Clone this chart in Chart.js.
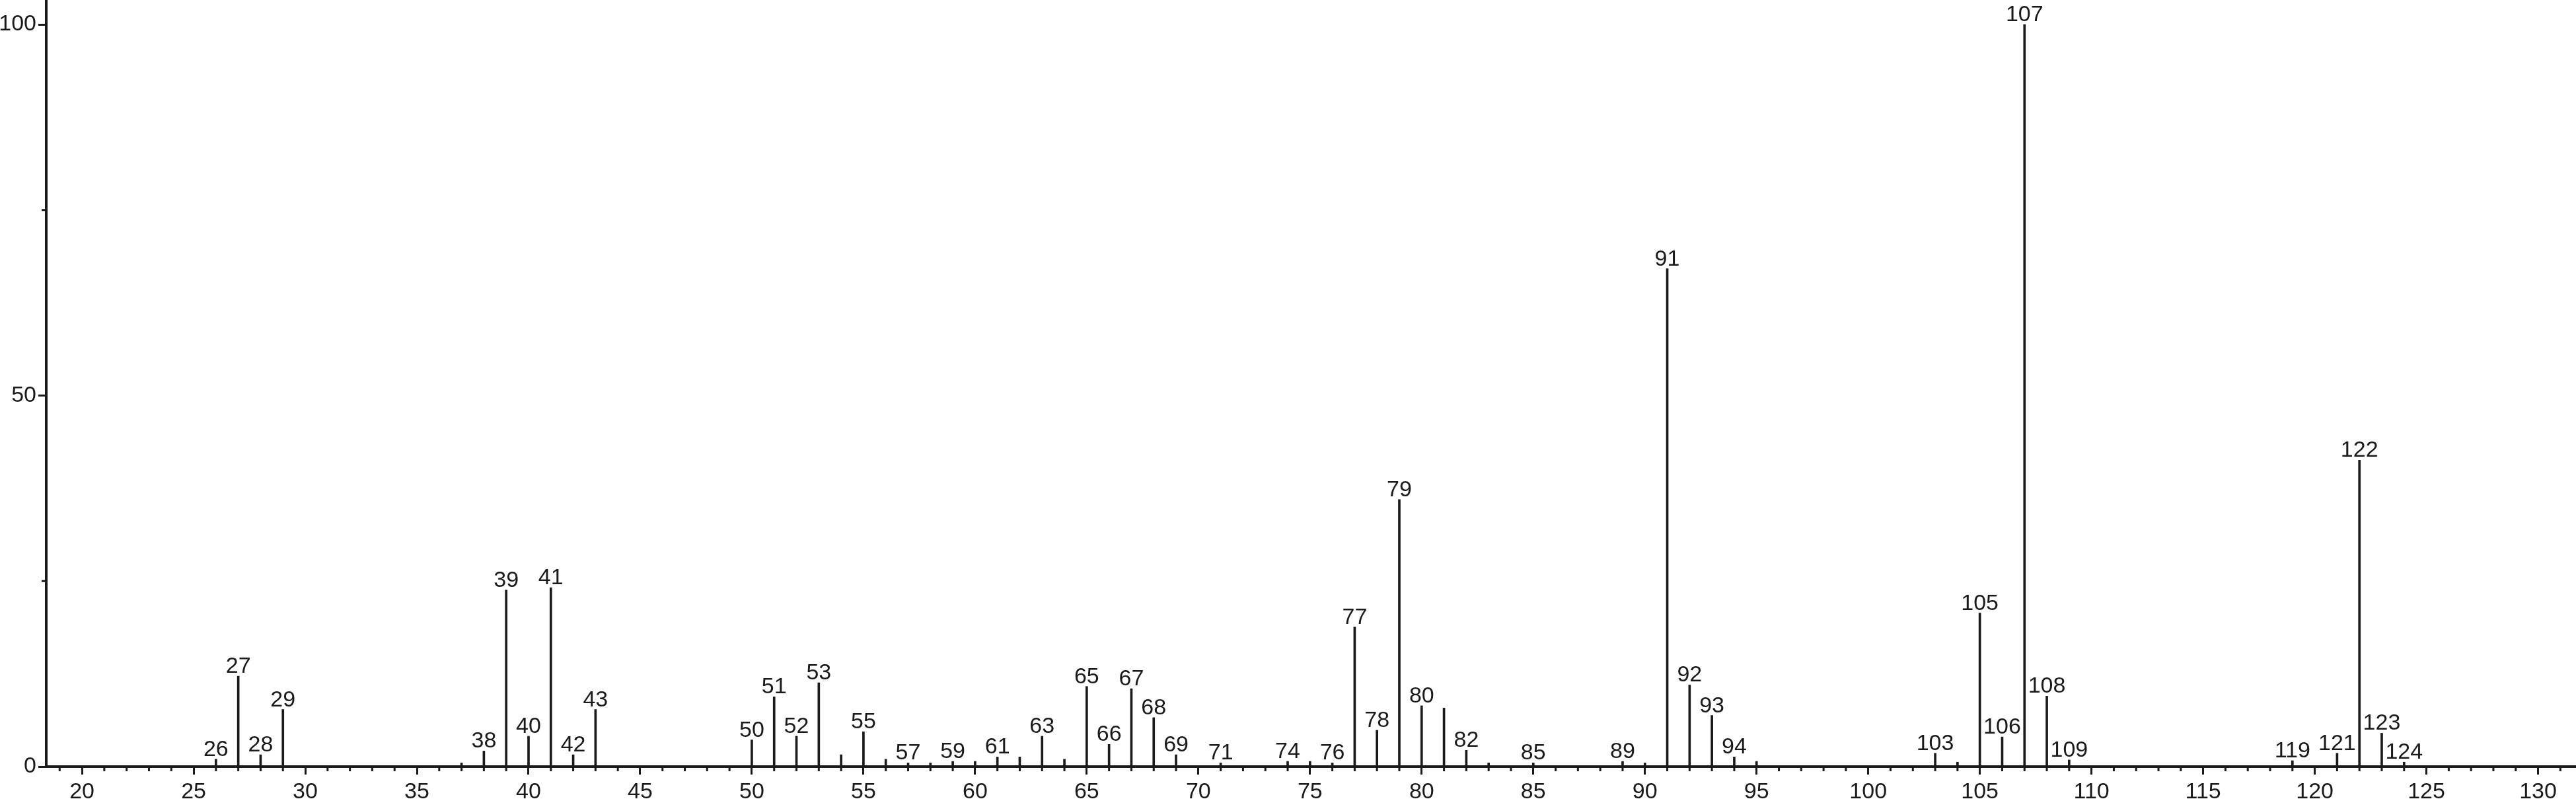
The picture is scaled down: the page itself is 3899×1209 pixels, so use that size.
<!DOCTYPE html>
<html>
<head>
<meta charset="utf-8">
<script src="https://cdn.jsdelivr.net/npm/chart.js@4.4.1/dist/chart.umd.min.js"></script>
<style>
  html, body { margin: 0; padding: 0; background: #fff; }
  canvas { display: block; }
</style>
</head>
<body>
<canvas id="espectro" width="3899" height="1209"></canvas>
<script>
// m/z de cada pico y su intensidad relativa (%)
const masas = [26, 27, 28, 29, 37, 38, 39, 40, 41, 42, 43, 50, 51, 52, 53, 54, 55, 56, 57, 58, 59, 60,
  61, 62, 63, 64, 65, 66, 67, 68, 69, 71, 74, 75, 76, 77, 78, 79, 80, 81, 82, 83, 85, 89, 90,
  91, 92, 93, 94, 95, 103, 104, 105, 106, 107, 108, 109, 119, 121, 122, 123, 124];
const intensidades = [1.0, 12.2, 1.6, 7.7, 0.5, 2.1, 23.8, 4.1, 24.1, 1.6, 7.7, 3.6, 9.4, 4.1, 11.3, 1.6, 4.7, 1.0, 0.5, 0.5, 0.7, 0.7,
  1.3, 1.3, 4.1, 1.0, 10.8, 3.0, 10.5, 6.6, 1.6, 0.5, 0.7, 0.7, 0.5, 18.8, 4.9, 36.0, 8.2, 7.9, 2.2, 0.5, 0.5, 0.7, 0.5,
  67.1, 11.0, 6.9, 1.3, 0.7, 1.8, 0.6, 20.7, 4.0, 100, 9.5, 0.9, 0.8, 1.8, 41.3, 4.5, 0.6];
// picos que llevan su m/z escrito encima
const etiquetados = [26, 27, 28, 29, 38, 39, 40, 41, 42, 43, 50, 51, 52, 53, 55, 57, 59, 61, 63, 65, 66, 67,
  68, 69, 71, 74, 76, 77, 78, 79, 80, 82, 85, 89, 91, 92, 93, 94, 103, 105, 106, 107, 108, 109,
  119, 121, 122, 123, 124];

const ticksX = [20, 25, 30, 35, 40, 45, 50, 55, 60, 65, 70, 75, 80, 85, 90, 95, 100, 105, 110, 115, 120, 125, 130];
const ticksY = [0, 50, 100];
const ticksYMenores = [25, 75];

const tinta = "#1a1a1a";
const fuente = { family: '"Liberation Sans", Arial, sans-serif', size: 34 };

// marcas cortas: cada unidad en x, 25 y 75 en y
const marcasMenores = {
  id: "marcasMenores",
  afterDraw(chart) {
    const ctx = chart.ctx;
    const x = chart.scales.x;
    const y = chart.scales.y;
    ctx.save();
    ctx.strokeStyle = tinta;
    ctx.lineWidth = 3;
    ctx.beginPath();
    for (let v = Math.ceil(x.min); v <= x.max; v++) {
      if (v % 5 === 0) continue;
      const px = x.getPixelForValue(v);
      ctx.moveTo(px, x.top);
      ctx.lineTo(px, x.top + 7);
    }
    ticksYMenores.forEach((v) => {
      const py = y.getPixelForValue(v);
      ctx.moveTo(y.right, py);
      ctx.lineTo(y.right - 7, py);
    });
    ctx.stroke();
    ctx.restore();
  },
};

const etiquetasPicos = {
  id: "etiquetasPicos",
  afterDatasetsDraw(chart) {
    const ctx = chart.ctx;
    const meta = chart.getDatasetMeta(0);
    ctx.save();
    ctx.font = fuente.size + "px " + fuente.family;
    ctx.fillStyle = tinta;
    ctx.textAlign = "center";
    ctx.textBaseline = "alphabetic";
    meta.data.forEach((barra, i) => {
      if (!etiquetados.includes(masas[i])) return;
      ctx.fillText(String(masas[i]), barra.x, barra.y - 5);
    });
    ctx.restore();
  },
};

function sinRelleno(s) {
  s.paddingTop = 0;
  s.paddingBottom = 0;
  s.paddingLeft = 0;
  s.paddingRight = 0;
}

new Chart(document.getElementById("espectro"), {
  type: "bar",
  data: {
    datasets: [
      {
        data: masas.map((m, i) => ({ x: m, y: intensidades[i] })),
        backgroundColor: tinta,
        borderWidth: 0,
        barThickness: 3,
        grouped: false,
      },
    ],
  },
  options: {
    responsive: false,
    animation: false,
    devicePixelRatio: 1,
    layout: { padding: 0 },
    plugins: {
      legend: { display: false },
      tooltip: { enabled: false },
    },
    scales: {
      x: {
        type: "linear",
        offset: false,
        min: 18.4,
        max: 131.7,
        afterFit: (s) => { s.height = 49; sinRelleno(s); },
        afterBuildTicks: (s) => { s.ticks = ticksX.map((v) => ({ value: v })); },
        grid: { offset: false, drawOnChartArea: false, drawTicks: true, tickLength: 12, tickWidth: 3, tickColor: tinta },
        border: { color: tinta, width: 4 },
        ticks: { font: fuente, color: tinta, padding: 6, maxRotation: 0, autoSkip: false },
      },
      y: {
        type: "linear",
        min: 0,
        max: 103.3,
        afterFit: (s) => { s.width = 70; sinRelleno(s); },
        afterBuildTicks: (s) => { s.ticks = ticksY.map((v) => ({ value: v })); },
        grid: { drawOnChartArea: false, drawTicks: true, tickLength: 12, tickWidth: 3, tickColor: tinta },
        border: { color: tinta, width: 4 },
        ticks: { font: fuente, color: tinta, padding: 3 },
      },
    },
  },
  plugins: [marcasMenores, etiquetasPicos],
});
</script>
</body>
</html>
